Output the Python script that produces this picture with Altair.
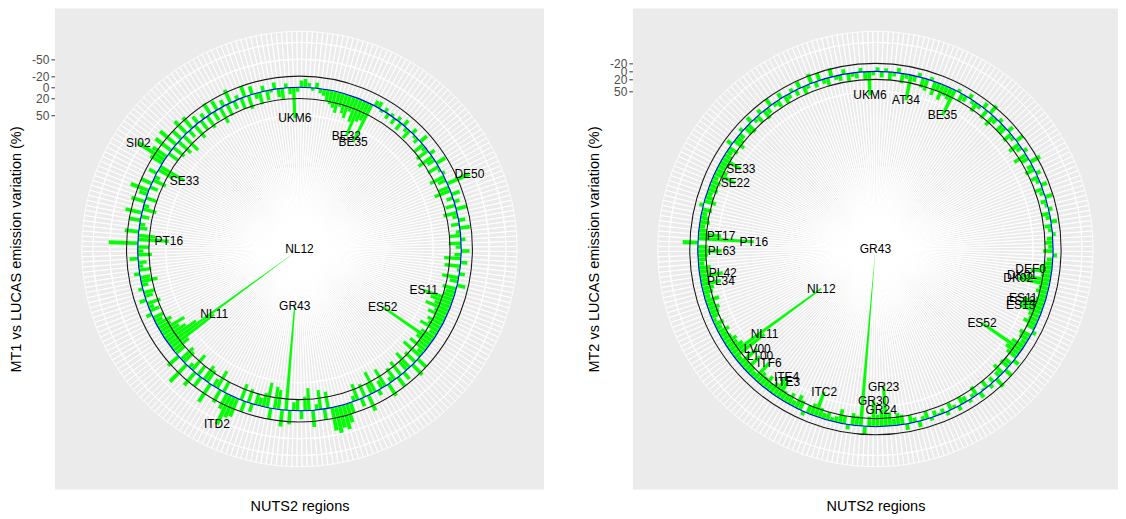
import math
import altair as alt
import pandas as pd

# ---------------- data ----------------
regions = (
    "AT11 AT12 AT13 AT21 AT22 AT31 AT32 AT33 AT34 "
    "BE10 BE21 BE22 BE23 BE24 BE25 BE31 BE32 BE33 BE34 BE35 "
    "BG31 BG32 BG33 BG34 BG41 BG42 "
    "CZ01 CZ02 CZ03 CZ04 CZ05 CZ06 CZ07 CZ08 "
    "DE11 DE12 DE13 DE14 DE21 DE22 DE23 DE24 DE25 DE26 DE27 DE30 DE41 DE42 DE50 DE60 "
    "DE71 DE72 DE73 DE80 DE91 DE92 DE93 DE94 DEA1 DEA2 DEA3 DEA4 DEA5 DEB1 DEB2 DEB3 "
    "DEC0 DED1 DED2 DED3 DEE0 DEF0 DEG0 "
    "DK01 DK02 DK03 DK04 DK05 EE00 "
    "ES11 ES12 ES13 ES21 ES22 ES23 ES24 ES30 ES41 ES42 ES43 ES51 ES52 ES53 ES61 ES62 ES70 "
    "FI13 FI18 FI19 FI1A FI20 "
    "FR10 FR21 FR22 FR23 FR24 FR25 FR26 FR30 FR41 FR42 FR43 FR51 FR52 FR53 FR61 FR62 "
    "FR63 FR71 FR72 FR81 FR82 FR83 "
    "GR11 GR12 GR13 GR14 GR21 GR22 GR23 GR24 GR25 GR30 GR41 GR42 GR43 "
    "HU10 HU21 HU22 HU23 HU31 HU32 HU33 IE01 IE02 "
    "ITC1 ITC2 ITC3 ITC4 ITD1 ITD2 ITD3 ITD4 ITD5 ITE1 ITE2 ITE3 ITE4 ITF1 ITF2 ITF3 "
    "ITF4 ITF5 ITF6 ITG1 ITG2 "
    "LT00 LU00 LV00 MT00 "
    "NL11 NL12 NL13 NL21 NL22 NL23 NL31 NL32 NL33 NL34 NL41 NL42 "
    "PL11 PL12 PL21 PL22 PL31 PL32 PL33 PL34 PL41 PL42 PL43 PL51 PL52 PL61 PL62 PL63 "
    "PT11 PT15 PT16 PT17 PT18 PT20 PT30 "
    "RO11 RO12 RO21 RO22 RO31 RO32 RO41 RO42 "
    "SE11 SE12 SE21 SE22 SE23 SE31 SE32 SE33 SI01 SI02 SK01 SK02 SK03 SK04 "
    "UKC1 UKC2 UKD1 UKD2 UKD3 UKD4 UKD5 UKE1 UKE2 UKE3 UKE4 UKF1 UKF2 UKF3 UKG1 UKG2 "
    "UKG3 UKH1 UKH2 UKH3 UKI1 UKI2 UKJ1 UKJ2 UKJ3 UKJ4 UKK1 UKK2 UKK3 UKK4 UKL1 UKL2 "
    "UKM2 UKM3 UKM5 UKM6 UKN0"
).split()

mt1_values = [
    -12, -15, -8, 5, -10, 8, 12, 20, 25,                      # AT
    30, 38, 25, 35, 42, 28, 45, 70, 40, 35, 75,               # BE
    -10, -12, 5, -8, 10, -5,                                  # BG
    12, -8, 15, -12, 8, 18, -10, 5,                           # CZ
    10, -15, 20, 8, 25, -10, 30, 15, -18, 22, 5, -5, 28, 15, -43, 20,
    30, -15, 12, -10, 18, -20, 25, 10, -12, 15, -18, 8, 20, -8, 22, 10,
    -15, 12, 30, -12, 28, 5, -10,                             # DE
    30, 15, -15, 25, 18, 20,                                  # DK, EE
    55, 40, 30, 45, 25, 35, 20, 30, 25, 38, 15, 28, 108, 30, 20, 35, 12,  # ES
    40, -20, 25, -25, 35,                                     # FI
    20, -15, 30, -20, 25, 10, -25, 35, 15, -10, 40, 20, -30, 25, -15, 30,
    10, -20, -35, -45, -40, -48,                              # FR
    -42, 30, -20, 35, 10, -30, 40, 25, -15, 20, 15, -25, 187, # GR
    -30, 35, 40, -20, 45, 25, 15, 20, -15,                    # HU, IE
    25, -20, 30, -35, -40, -57, -30, 20, -25, 35, 15, -38, 25, 30, -20, 20,
    -30, 35, 10, -42, 25,                                     # IT
    30, -25, 20, 35,                                          # LT LU LV MT
    97, 289, 64, 45, 35, 50, 25, 30, 15, 20, -10, 18,         # NL
    10, 25, -12, 15, 20, -8, 12, 30, 18, -10, 22, 8, 15, -15, 25, 10,  # PL
    20, -52, 55, 30, -25, 15, 10,                             # PT
    -20, 15, -30, 25, 10, -25, 20, -15,                       # RO
    -34, 15, -20, 25, 10, -15, 30, 50, -25, -56, -30, 20, -35, 25,  # SE SI SK
    -37, 30, -20, 36, -30, 15, -25, 28, -15, 20, -10, 25, -22, 18, -18, 30,
    -12, 22, -25, 15, -8, 20, -21, 25, -15, 10, 22, -10, 18, 5, -12, 15,
    20, -8, 12, 55, 8,                                        # UK
]

mt2_values = [
    -10, 15, -8, 20, 10, -12, 25, 12, 65,                     # AT
    15, -10, 25, 30, -8, 35, 20, 40, 25, 30, 70,              # BE
    -8, 20, 15, -12, 10, 25,                                  # BG
    10, -15, 25, -25, 30, 15, -10, 20,                        # CZ
    20, -15, 25, 10, -20, 30, 15, -10, 35, 20, -28, 15, 25, -12, 18, 10,
    -15, 20, 12, -18, 15, 8, -10, 20, 12, -15, 18, 10, -8, 15, 20, 12,
    25, -10, 15, 20, 30, 53, 25,                              # DE
    72, 80, 25, 30, 20, 25,                                   # DK, EE
    55, 58, 55, 30, 25, 35, 20, -10, 30, 25, 15, 35, 120, 40, 30, -15, 20,  # ES
    25, -20, 30, 15, -25,                                     # FI
    15, -10, 20, 5, -15, 25, 10, -8, 15, 20, -12, 8, 18, -10, 12, 5,
    15, -8, 20, 10, -15, 12,                                  # FR
    20, -15, 25, 30, 18, 35, 100, 42, 30, 65, 25, -20, 445,   # GR
    25, 30, -12, 20, 35, 15, 10, 20, 15,                      # HU, IE
    25, 65, 30, 20, -10, 25, 35, 15, 30, 20, 25, 45, 55, 30, 20, 35,
    25, 30, 55, 15, 20,                                       # IT
    50, 20, 57, 15,                                           # LT LU LV MT
    95, 277, 40, 30, 35, 25, 20, 30, 15, 25, 10, 20,          # NL
    25, 30, 20, 35, 15, 25, 30, 50, 20, 58, 25, 30, 15, 20, 25, 60,  # PL
    25, -38, 140, 57, 20, 15, 25,                             # PT
    20, 15, 25, -10, 30, 20, 15, 25,                          # RO
    20, 25, 15, 57, 30, 20, 25, 53, 20, 15, 25, -15, 30, 20,  # SE SI SK
    15, -10, 20, 25, -15, 10, 20, -12, 25, 15, -20, 10, 18, -15, 20, 12,
    -10, 15, -18, 20, 10, -25, 15, -20, 12, 18, -22, 10, 15, -12, 20, 10,
    15, -10, 20, 60, 10,                                      # UK
]

mt1_labels = ["UKM6", "BE32", "BE35", "DE50", "ES11", "ES52", "GR43", "ITD2",
              "NL11", "NL12", "PT16", "SE33", "SI02"]
mt2_labels = ["UKM6", "AT34", "BE35", "DEF0", "DK01", "DK02", "ES11", "ES12",
              "ES13", "ES52", "GR23", "GR24", "GR30", "GR43", "ITC2", "ITE3",
              "ITE4", "ITF6", "LT00", "LV00", "NL11", "NL12", "PL34", "PL42",
              "PL63", "PT16", "PT17", "SE22", "SE33"]

mt1_ticks = [-50, -20, 0, 20, 50]
mt2_ticks = [-20, 0, 20, 50]
ref_lines = [-20, 0, 20]

assert len(mt1_values) == len(regions), len(mt1_values)
assert len(mt2_values) == len(regions), len(mt2_values)

N = len(regions)
H = 482          # plot height
R = 194          # radius of data ring extent
R_OUT = 218      # outer grid radius
FONT = "Liberation Sans"
TWO_PI = 2 * math.pi
PANEL_BG = "#EBEBEB"


def panel(values, labels, vmax, vmin, ticks, ytitle, width):
    df = pd.DataFrame({"region": regions, "idx": list(range(N)), "value": values})
    df["base"] = 0
    theta_scale = alt.Scale(domain=[0, N], range=[0, TWO_PI], nice=False, zero=False)
    r_scale = alt.Scale(type="linear", domain=[vmax, vmin], range=[0, R],
                        nice=False, zero=False)
    base = alt.Chart(df)

    circ_df = pd.DataFrame({"v": ticks})

    background = alt.Chart(circ_df.head(1)).mark_rect(color=PANEL_BG).encode(
        x=alt.value(0), x2=alt.value(width), y=alt.value(0), y2=alt.value(H)
    )

    spokes = base.transform_calculate(
        s="datum.idx + 0.5", e="datum.idx + 1.5"
    ).mark_arc(fill="transparent", stroke="white", strokeWidth=0.9).encode(
        theta=alt.Theta("s:Q", scale=theta_scale, stack=False),
        theta2="e:Q",
        radius=alt.value(R_OUT),
        radius2=alt.value(0),
    )

    circles = alt.Chart(circ_df).mark_arc(
        fill="transparent", stroke="white", strokeWidth=1
    ).encode(
        theta=alt.value(0), theta2=alt.value(TWO_PI),
        radius=alt.Radius("v:Q", scale=r_scale), radius2="v:Q",
    )
    outer2 = alt.Chart(circ_df.head(1)).mark_arc(
        fill="transparent", stroke="white", strokeWidth=0.8
    ).encode(
        theta=alt.value(0), theta2=alt.value(TWO_PI),
        radius=alt.value(207), radius2=alt.value(207),
    )

    bars = base.transform_calculate(
        t0="datum.idx + 0.05", t1="datum.idx + 0.95"
    ).mark_arc(color="#00FF00").encode(
        theta=alt.Theta("t0:Q", scale=theta_scale, stack=False),
        theta2="t1:Q",
        radius=alt.Radius("base:Q", scale=r_scale),
        radius2="value:Q",
    )

    ref_df = pd.DataFrame({"v": ref_lines,
                           "kind": ["black", "blue", "black"]})
    refs = alt.Chart(ref_df).mark_arc(fill="transparent", strokeWidth=1.1).encode(
        theta=alt.value(0), theta2=alt.value(TWO_PI),
        radius=alt.Radius("v:Q", scale=r_scale), radius2="v:Q",
        stroke=alt.Stroke("kind:N", scale=alt.Scale(domain=["black", "blue"],
                                                     range=["#1a1a1a", "#0000FF"]),
                          legend=None),
    )

    texts = base.transform_filter(
        alt.FieldOneOfPredicate(field="region", oneOf=labels)
    ).transform_calculate(c="datum.idx + 0.5").mark_text(
        font=FONT, fontSize=12, color="black", align="center", baseline="middle"
    ).encode(
        theta=alt.Theta("c:Q", scale=theta_scale, stack=False),
        radius=alt.Radius("value:Q", scale=r_scale),
        text="region:N",
    )

    span = (vmax - vmin) / R * (H / 2)
    y_top = vmax - span
    y_bot = vmax + span
    ax_df = pd.DataFrame({"tick": ticks, "xx": [0.5] * len(ticks)})
    axes = alt.Chart(ax_df).mark_point(opacity=0).encode(
        y=alt.Y("tick:Q",
                scale=alt.Scale(domain=[y_bot, y_top], nice=False, zero=False),
                axis=alt.Axis(values=ticks, title=ytitle, grid=False, domain=False,
                              labelExpr="'' + datum.value", labelOverlap=False,
                              tickColor="#333333", tickSize=4, tickWidth=1,
                              labelColor="#4D4D4D", labelFontSize=12, labelFont=FONT,
                              labelPadding=2, titleFont=FONT, titleFontSize=14.5,
                              titleFontWeight="normal", titleColor="#000000",
                              titlePadding=8)),
        x=alt.X("xx:Q", scale=alt.Scale(domain=[0, 1]),
                axis=alt.Axis(title="NUTS2 regions", labels=False, ticks=False,
                              domain=False, grid=False, titleFont=FONT,
                              titleFontSize=14.5, titleFontWeight="normal",
                              titleColor="#000000", titlePadding=10)),
    )

    return alt.layer(background, axes, spokes, circles, outer2, bars, refs,
                     texts).properties(width=width, height=H)


left = panel(mt1_values, mt1_labels, 289, -57, mt1_ticks,
             "MT1 vs LUCAS emission variation (%)", 490)
right = panel(mt2_values, mt2_labels, 445, -40, mt2_ticks,
              "MT2 vs LUCAS emission variation (%)", 486)

chart = alt.hconcat(left, right, spacing=42).properties(
    padding={"left": 0, "top": 0, "right": 0, "bottom": 0},
    background="white",
).configure_view(strokeOpacity=0)

chart.save("out.html", embed_options={"renderer": "svg", "actions": False})
